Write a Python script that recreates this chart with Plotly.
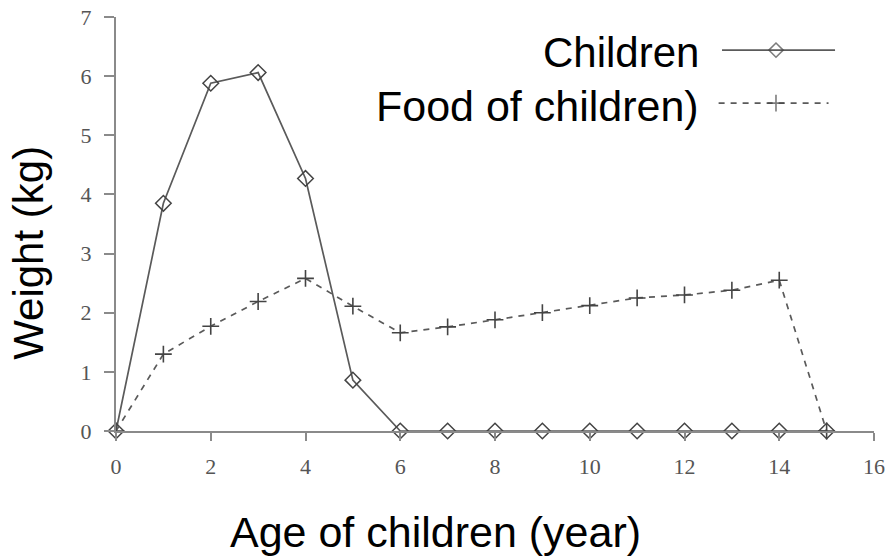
import plotly.graph_objects as go

ages = list(range(0, 16))
children = [0, 3.85, 5.88, 6.06, 4.27, 0.86, 0, 0, 0, 0, 0, 0, 0, 0, 0, 0]
food = [0, 1.3, 1.77, 2.19, 2.58, 2.11, 1.66, 1.76, 1.88, 2.0, 2.12, 2.25, 2.3, 2.38, 2.55, 0]
x_ticks = [0, 2, 4, 6, 8, 10, 12, 14, 16]
y_ticks = [0, 1, 2, 3, 4, 5, 6, 7]
series_names = ["Children", "Food of children)"]
x_title = "Age of children (year)"
y_title = "Weight (kg)"

LINE = "#5a5a5a"
AXIS = "#8a8a8a"
TICKFONT = dict(family="Liberation Serif, DejaVu Serif, serif", size=22, color="#555555")
TEXTFONT = dict(family="Liberation Sans, Arial, sans-serif", size=42, color="#000000")
XTITLEFONT = dict(family="Liberation Sans, Arial, sans-serif", size=43, color="#000000")

fig = go.Figure()
fig.add_trace(go.Scatter(
    x=ages, y=children, mode="lines+markers", name=series_names[0],
    line=dict(color=LINE, width=1.7),
    marker=dict(symbol="diamond-open", size=12, color="#444444", line=dict(width=1.5)),
    cliponaxis=False, showlegend=False))
fig.add_trace(go.Scatter(
    x=ages, y=food, mode="lines+markers", name=series_names[1],
    line=dict(color=LINE, width=1.7, dash="6px,6px"),
    marker=dict(symbol="cross-thin-open", size=12, color="#444444", line=dict(width=1.6, color="#444444")),
    cliponaxis=False, showlegend=False))

# legend samples drawn on a hidden overlay axis (0..1 of plot area)
fig.add_trace(go.Scatter(
    x=[0.7995, 0.8707, 0.9486], y=[0.92, 0.92, 0.92], mode="lines+markers",
    line=dict(color=LINE, width=1.6),
    marker=dict(symbol="diamond-open", size=[0, 11, 0], color="#444444", line=dict(width=1.5)),
    xaxis="x2", yaxis="y2", cliponaxis=False, showlegend=False, hoverinfo="skip"))
fig.add_trace(go.Scatter(
    x=[0.795, 0.8707, 0.94], y=[0.792, 0.792, 0.792], mode="lines+markers",
    line=dict(color=LINE, width=1.6, dash="6px,6px"),
    marker=dict(symbol="cross-thin-open", size=[0, 12, 0], color="#444444", line=dict(width=1.6, color="#444444")),
    xaxis="x2", yaxis="y2", cliponaxis=False, showlegend=False, hoverinfo="skip"))

fig.add_annotation(text=series_names[0], xref="x2", yref="y2", x=0.772, y=0.915,
                   xanchor="right", yanchor="middle", showarrow=False, font=TEXTFONT)
fig.add_annotation(text=series_names[1], xref="x2", yref="y2", x=0.772, y=0.785,
                   xanchor="right", yanchor="middle", showarrow=False,
                   font=dict(family="Liberation Sans, Arial, sans-serif", size=43, color="#000000"))

# axis titles
fig.add_annotation(text=x_title, xref="paper", yref="paper", x=0.421, y=-0.244,
                   xanchor="center", yanchor="middle", showarrow=False, font=XTITLEFONT)
fig.add_annotation(text=y_title, xref="paper", yref="paper", x=-0.115, y=0.43,
                   xanchor="center", yanchor="middle", showarrow=False, font=TEXTFONT,
                   textangle=-90)

fig.update_layout(
    width=889, height=559,
    margin=dict(l=116, r=15, t=17, b=128, autoexpand=False),
    paper_bgcolor="white", plot_bgcolor="white",
    xaxis=dict(range=[0, 16], tickvals=x_ticks, showgrid=False, zeroline=False, automargin=False,
               showline=True, linecolor=AXIS, linewidth=2, ticks="outside", ticklen=8,
               tickcolor=AXIS, tickwidth=1.5, tickfont=TICKFONT, ticklabelstandoff=7),
    yaxis=dict(range=[0, 7], tickvals=y_ticks, showgrid=False, zeroline=False, automargin=False,
               showline=True, linecolor=AXIS, linewidth=2, ticks="outside", ticklen=10,
               tickcolor=AXIS, tickwidth=1.5, tickfont=TICKFONT, ticklabelstandoff=8),
    xaxis2=dict(range=[0, 1], overlaying="x", visible=False, fixedrange=True),
    yaxis2=dict(range=[0, 1], overlaying="y", visible=False, fixedrange=True),
)

fig.write_html("out.html", config={"displayModeBar": False},
               post_script="document.body.style.margin='0';document.body.style.padding='0';")
